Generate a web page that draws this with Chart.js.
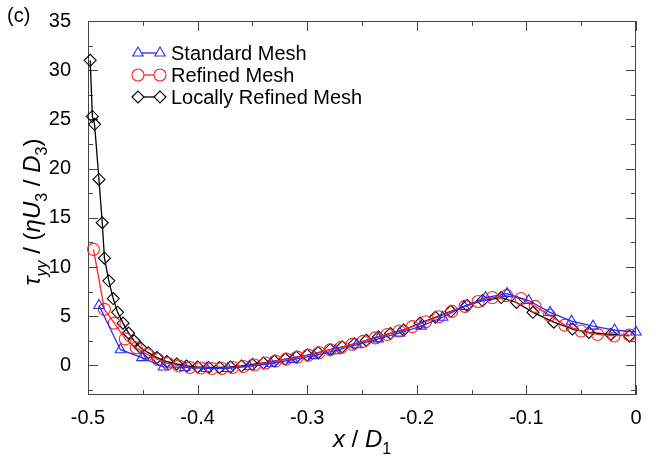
<!DOCTYPE html>
<html>
<head>
<meta charset="utf-8">
<script src="https://cdn.jsdelivr.net/npm/chart.js@4.4.1/dist/chart.umd.min.js"></script>
<style>
  html, body { margin: 0; padding: 0; background: #fff; }
  #contenedor { width: 656px; height: 458px; }
</style>
</head>
<body>
<div id="contenedor"><canvas id="grafico" width="656" height="458"></canvas></div>
<script>
// Datos de las tres mallas
const etiquetas = ["Standard Mesh", "Refined Mesh", "Locally Refined Mesh"];

const xEstandar = [-0.49, -0.4704, -0.4508, -0.4312, -0.4116, -0.392, -0.3724, -0.3528, -0.3332, -0.3136,
    -0.294, -0.2744, -0.2548, -0.2352, -0.2156, -0.196, -0.1764, -0.1568, -0.1372, -0.1176,
    -0.098, -0.0784, -0.0588, -0.0392, -0.0196, 0.0];
const yEstandar = [6.1, 1.6, 0.8, -0.15, -0.2, -0.3, -0.3, -0.1, 0.2, 0.6,
    1.0, 1.5, 2.1, 2.7, 3.3, 4.0, 4.9, 6.0, 6.9, 7.3,
    6.6, 5.4, 4.5, 4.0, 3.6, 3.4];

const xRefinada = [-0.495, -0.485, -0.476, -0.466, -0.456, -0.446, -0.436, -0.427, -0.417, -0.407,
    -0.397, -0.387, -0.378, -0.368, -0.358, -0.348, -0.338, -0.329, -0.319, -0.309,
    -0.299, -0.289, -0.279, -0.269, -0.259, -0.249, -0.238, -0.227, -0.216, -0.204,
    -0.192, -0.180, -0.168, -0.156, -0.144, -0.131, -0.118, -0.105, -0.092, -0.079,
    -0.065, -0.050, -0.035, -0.020, -0.006];
const yRefinada = [11.8, 5.7, 4.3, 2.7, 1.8, 1.1, 0.6, 0.2, -0.05, -0.2,
    -0.25, -0.3, -0.3, -0.2, -0.1, 0.05, 0.25, 0.45, 0.65, 0.85,
    1.05, 1.3, 1.6, 1.85, 2.15, 2.45, 2.8, 3.15, 3.5, 3.95,
    4.45, 4.95, 5.5, 6.0, 6.5, 6.9, 7.1, 6.8, 6.0, 5.1,
    4.1, 3.5, 3.15, 3.0, 3.1];

const xLocal = [-0.498, -0.496, -0.494, -0.490, -0.487, -0.485, -0.481, -0.477, -0.473, -0.468,
    -0.463, -0.458, -0.452, -0.445, -0.437, -0.428, -0.419, -0.410, -0.400, -0.390,
    -0.380, -0.370, -0.360, -0.350, -0.340, -0.330, -0.320, -0.310, -0.300, -0.290,
    -0.279, -0.268, -0.257, -0.246, -0.235, -0.224, -0.212, -0.197, -0.183, -0.169,
    -0.154, -0.140, -0.123, -0.109, -0.094, -0.075, -0.058, -0.043, -0.023, -0.006];
const yLocal = [31.0, 25.3, 24.5, 18.9, 14.5, 10.9, 8.6, 6.8, 5.4, 4.3,
    3.3, 2.5, 1.8, 1.3, 0.8, 0.4, 0.15, -0.05, -0.15, -0.2,
    -0.2, -0.15, -0.05, 0.1, 0.25, 0.45, 0.65, 0.85, 1.05, 1.3,
    1.6, 1.9, 2.2, 2.55, 2.9, 3.25, 3.6, 4.3, 4.9, 5.5,
    6.1, 6.6, 6.9, 6.4, 5.4, 4.4, 3.7, 3.35, 3.15, 3.0];

// Marcas de los ejes
const xTicks = [-0.5, -0.4, -0.3, -0.2, -0.1, 0];
const xTickLabels = ["-0.5", "-0.4", "-0.3", "-0.2", "-0.1", "0"];
const xMenores = [-0.45, -0.35, -0.25, -0.15, -0.05];
const yTicks = [0, 5, 10, 15, 20, 25, 30, 35];
const yTickLabels = ["0", "5", "10", "15", "20", "25", "30", "35"];
const yMenores = [-2.5, 2.5, 7.5, 12.5, 17.5, 22.5, 27.5, 32.5];

const colores = ["#2a2aff", "#ff2424", "#000000"];
const formas = ["triangle", "circle", "rectRot"];
const FUENTE = "'Liberation Sans', Arial, sans-serif";

function puntos(xs, ys) {
    return xs.map((x, i) => ({ x: x, y: ys[i] }));
}

function serie(i, xs, ys) {
    return {
        label: etiquetas[i],
        data: puntos(xs, ys),
        borderColor: colores[i],
        backgroundColor: "rgba(0,0,0,0)",
        borderWidth: 1.3,
        pointStyle: formas[i],
        pointRadius: 6,
        pointBorderWidth: 1.1,
        pointBorderColor: colores[i],
        pointBackgroundColor: "rgba(0,0,0,0)",
        tension: 0,
        clip: false
    };
}

// Texto con subíndices: cada trozo lleva su fuente y desplazamiento
function textoCompuesto(ctx, trozos, cx, cy) {
    let total = 0;
    trozos.forEach(t => { ctx.font = t.f; total += ctx.measureText(t.t).width; });
    let x = cx - total / 2;
    ctx.textAlign = "left";
    ctx.textBaseline = "alphabetic";
    trozos.forEach(t => {
        ctx.font = t.f;
        ctx.fillText(t.t, x, cy + (t.dy || 0));
        x += ctx.measureText(t.t).width;
    });
}

// Marco y marcas hacia dentro en los cuatro lados
const marcoEjes = {
    id: "marcoEjes",
    beforeDatasetsDraw(chart) {
        const { ctx, chartArea: a, scales: { x, y } } = chart;
        ctx.save();
        ctx.strokeStyle = "#444";
        ctx.lineWidth = 1;
        ctx.strokeRect(Math.round(a.left) + 0.5, Math.round(a.top) + 0.5,
            Math.round(a.width) - 1, Math.round(a.height) - 1);
        ctx.beginPath();
        const marcaX = (v, largo) => {
            const px = Math.round(x.getPixelForValue(v)) + 0.5;
            ctx.moveTo(px, a.bottom); ctx.lineTo(px, a.bottom - largo);
            ctx.moveTo(px, a.top); ctx.lineTo(px, a.top + largo);
        };
        const marcaY = (v, largo) => {
            const py = Math.round(y.getPixelForValue(v)) + 0.5;
            ctx.moveTo(a.left, py); ctx.lineTo(a.left + largo, py);
            ctx.moveTo(a.right, py); ctx.lineTo(a.right - largo, py);
        };
        xTicks.forEach(v => marcaX(v, 10));
        xMenores.forEach(v => marcaX(v, 5));
        yTicks.forEach(v => marcaY(v, 10));
        yMenores.forEach(v => marcaY(v, 5));
        ctx.stroke();
        ctx.restore();
    },
    afterDraw(chart) {
        const { ctx } = chart;
        ctx.save();
        ctx.fillStyle = "#000";

        // Rótulo del panel
        ctx.font = "20px " + FUENTE;
        ctx.textAlign = "left";
        ctx.textBaseline = "middle";
        ctx.fillText("(c)", 7, 16);

        // Título del eje x
        const it = "italic 24px " + FUENTE;
        const nr = "24px " + FUENTE;
        const sub = "16px " + FUENTE;
        const subIt = "italic 16px " + FUENTE;
        textoCompuesto(ctx, [
            { t: "x", f: it }, { t: " / ", f: nr }, { t: "D", f: it }, { t: "1", f: sub, dy: 7 }
        ], 362, 447);

        // Título del eje y, girado
        ctx.translate(40, 212);
        ctx.rotate(-Math.PI / 2);
        textoCompuesto(ctx, [
            { t: "τ", f: it }, { t: "yy", f: subIt, dy: 7 }, { t: " / (", f: nr },
            { t: "η", f: it }, { t: "U", f: it }, { t: "3", f: sub, dy: 7 },
            { t: " / ", f: nr }, { t: "D", f: it }, { t: "3", f: sub, dy: 7 }, { t: ")", f: nr }
        ], 0, 0);
        ctx.restore();

        // Leyenda: dos marcadores unidos por una línea
        ctx.save();
        const x0 = 138, x1 = 160, filas = [53, 75, 97];
        chart.data.datasets.forEach((ds, i) => {
            const yy = filas[i];
            ctx.strokeStyle = ds.borderColor;
            ctx.lineWidth = 1.3;
            ctx.beginPath();
            ctx.moveTo(x0, yy); ctx.lineTo(x1, yy);
            ctx.stroke();
            ctx.lineWidth = 1.1;
            const op = { pointStyle: ds.pointStyle, radius: 6, rotation: 0, borderWidth: 1.1 };
            ctx.fillStyle = "#fff";
            Chart.helpers.drawPoint(ctx, op, x0, yy);
            Chart.helpers.drawPoint(ctx, op, x1, yy);
            ctx.fillStyle = "#000";
            ctx.font = "20px " + FUENTE;
            ctx.textAlign = "left";
            ctx.textBaseline = "middle";
            ctx.fillText(ds.label, 171, yy + 1);
        });
        ctx.restore();
    }
};

new Chart(document.getElementById("grafico"), {
    type: "line",
    data: {
        datasets: [
            serie(0, xEstandar, yEstandar),
            serie(1, xRefinada, yRefinada),
            serie(2, xLocal, yLocal)
        ]
    },
    options: {
        responsive: false,
        devicePixelRatio: 1,
        animation: false,
        layout: { padding: { top: 15, right: 20, left: 0, bottom: 0 } },
        plugins: { legend: { display: false }, tooltip: { enabled: false } },
        scales: {
            x: {
                type: "linear",
                min: -0.5,
                max: 0,
                grid: { display: false },
                border: { display: false },
                afterBuildTicks: s => { s.ticks = xTicks.map(v => ({ value: v })); },
                afterFit: s => { s.height = 63; },
                ticks: {
                    color: "#000",
                    padding: 3,
                    maxRotation: 0,
                    font: { family: FUENTE, size: 20 },
                    callback: (v) => xTickLabels[xTicks.findIndex(t => Math.abs(t - v) < 1e-9)]
                }
            },
            y: {
                type: "linear",
                min: -3,
                max: 35,
                grid: { display: false },
                border: { display: false },
                afterBuildTicks: s => { s.ticks = yTicks.map(v => ({ value: v })); },
                afterFit: s => { s.width = 88; },
                ticks: {
                    color: "#000",
                    padding: 9,
                    font: { family: FUENTE, size: 20 },
                    callback: (v) => yTickLabels[yTicks.indexOf(v)]
                }
            }
        }
    },
    plugins: [marcoEjes]
});
</script>
</body>
</html>
